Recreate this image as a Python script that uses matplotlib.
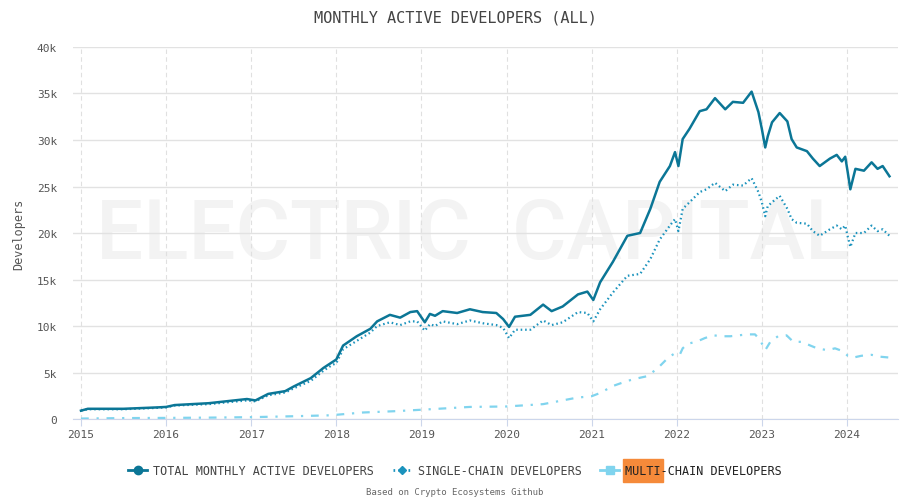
import numpy as np
import matplotlib
matplotlib.use('Agg')
from matplotlib import pyplot as plt
from matplotlib.patches import Rectangle

# decimal year -> developers (thousands)
years = [2015.0, 2015.08, 2015.5, 2015.9, 2016.0, 2016.1, 2016.5, 2016.95, 2017.05,
         2017.2, 2017.4, 2017.5, 2017.7, 2017.85, 2017.95, 2018.0, 2018.08, 2018.24,
         2018.4, 2018.48, 2018.63, 2018.75, 2018.87, 2018.95, 2019.04, 2019.1, 2019.16,
         2019.25, 2019.42, 2019.57, 2019.72, 2019.88, 2019.96, 2020.03, 2020.1, 2020.28,
         2020.43, 2020.53, 2020.66, 2020.84, 2020.95, 2021.02, 2021.1, 2021.25, 2021.42,
         2021.57, 2021.69, 2021.8, 2021.92, 2021.98, 2022.02, 2022.07, 2022.15, 2022.27,
         2022.35, 2022.45, 2022.57, 2022.66, 2022.78, 2022.88, 2022.96, 2023.0, 2023.04,
         2023.07, 2023.12, 2023.21, 2023.3, 2023.35, 2023.41, 2023.53, 2023.6, 2023.68,
         2023.8, 2023.88, 2023.94, 2023.98, 2024.01, 2024.04, 2024.1, 2024.2, 2024.29,
         2024.36, 2024.42, 2024.5]

total = [0.9, 1.1, 1.1, 1.25, 1.3, 1.5, 1.7, 2.15, 2.0,
         2.7, 3.0, 3.5, 4.4, 5.5, 6.1, 6.4, 7.9, 8.9,
         9.7, 10.5, 11.2, 10.9, 11.5, 11.6, 10.4, 11.3, 11.1,
         11.6, 11.4, 11.8, 11.5, 11.4, 10.75, 9.9, 11.0, 11.2,
         12.3, 11.6, 12.1, 13.4, 13.7, 12.8, 14.7, 16.9, 19.7,
         20.0, 22.6, 25.5, 27.2, 28.7, 27.2, 30.1, 31.2, 33.1,
         33.3, 34.5, 33.3, 34.1, 34.0, 35.2, 33.0, 31.2, 29.2,
         30.4, 31.9, 32.9, 32.0, 30.1, 29.2, 28.8, 28.0, 27.2,
         28.0, 28.4, 27.7, 28.2, 26.5, 24.7, 26.9, 26.7, 27.6,
         26.9, 27.2, 26.1]

single = [0.9, 1.05, 1.05, 1.2, 1.25, 1.45, 1.6, 2.0, 1.9,
          2.55, 2.85, 3.3, 4.1, 5.2, 5.8, 6.0, 7.5, 8.4,
          9.3, 10.0, 10.4, 10.1, 10.5, 10.5, 9.5, 10.2, 10.0,
          10.5, 10.2, 10.6, 10.3, 10.1, 9.8, 8.7, 9.6, 9.6,
          10.6, 10.1, 10.4, 11.5, 11.4, 10.5, 11.8, 13.6, 15.4,
          15.6, 17.2, 19.3, 20.8, 21.5, 20.2, 22.6, 23.3, 24.4,
          24.7, 25.4, 24.5, 25.2, 25.1, 25.9, 24.4, 23.3, 21.8,
          22.9, 23.3, 24.0, 22.6, 21.5, 21.1, 21.0, 20.2, 19.7,
          20.4, 20.8, 20.4, 20.8, 19.6, 18.5, 20.0, 20.0, 20.8,
          20.2, 20.4, 19.7]

multi_years = [2015.0, 2015.5, 2016.0, 2016.5, 2017.0, 2017.5, 2017.93, 2018.31, 2018.71,
               2019.1, 2019.57, 2020.0, 2020.43, 2020.83, 2021.0, 2021.1, 2021.25, 2021.42,
               2021.55, 2021.65, 2021.77, 2021.9, 2022.0, 2022.04, 2022.07, 2022.13, 2022.23,
               2022.33, 2022.43, 2022.53, 2022.63, 2022.83, 2022.92, 2022.98, 2023.04, 2023.1,
               2023.19, 2023.29, 2023.37, 2023.47, 2023.57, 2023.65, 2023.77, 2023.86, 2023.95,
               2024.01, 2024.07, 2024.17, 2024.29, 2024.39, 2024.51]
multi = [0.05, 0.1, 0.12, 0.15, 0.2, 0.3, 0.4, 0.7, 0.85,
         1.05, 1.3, 1.35, 1.6, 2.3, 2.45, 2.8, 3.55, 4.1,
         4.4, 4.6, 5.4, 6.6, 7.2, 7.0, 7.6, 8.1, 8.3,
         8.7, 9.0, 8.9, 8.9, 9.1, 9.1, 8.5, 7.4, 8.3,
         8.9, 9.0, 8.3, 8.3, 7.9, 7.6, 7.4, 7.6, 7.3,
         6.8, 6.6, 6.8, 6.9, 6.7, 6.6]

year_ticks = list(range(2015, 2025))
y_ticks = [0, 5, 10, 15, 20, 25, 30, 35, 40]
y_labels = ['0', '5k', '10k', '15k', '20k', '25k', '30k', '35k', '40k']

C_TOTAL = '#0b7696'
C_SINGLE = '#1b93bd'
C_MULTI = '#80d4ee'
MONO = ['DejaVu Sans Mono']
LW = 1.6

fig = plt.figure(figsize=(9.1, 5.02), dpi=100)
ax = fig.add_axes([0.0802, 0.1633, 0.9066, 0.7411])

# watermark
ax.text(0.485, 0.495, 'ELECTRIC  CAPITAL', transform=ax.transAxes, ha='center', va='center',
        fontsize=60, color='#f3f3f3', family='Roboto', fontweight='medium', zorder=0)

ax.plot(multi_years, multi, color=C_MULTI, lw=LW, dashes=(3.5, 3.5, 1, 3.5), zorder=3)
ax.plot(years, single, color=C_SINGLE, lw=LW, dashes=(0.7, 1.3), zorder=4)
ax.plot(years, total, color=C_TOTAL, lw=LW + 0.2, zorder=5)

ax.set_xlim(2014.906, 2024.6)
ax.set_ylim(0, 40)
ax.set_xticks(year_ticks)
ax.set_xticklabels([str(y) for y in year_ticks], family=MONO, fontsize=8, color='#555555')
ax.set_yticks(y_ticks)
ax.set_yticklabels(y_labels, family=MONO, fontsize=8, color='#555555')
ax.tick_params(axis='y', length=0, pad=11.5)
ax.tick_params(axis='x', length=5, color='#ccd6eb', pad=2)
ax.grid(axis='y', color='#e2e2e2', lw=1)
ax.grid(axis='x', color='#e0e0e0', lw=0.8, ls=(0, (4, 3)))
ax.set_axisbelow(True)
for s in ['top', 'right', 'left']:
    ax.spines[s].set_visible(False)
ax.spines['bottom'].set_color('#ccd6eb')
ax.set_ylabel('Developers', family=MONO, fontsize=8.5, color='#555555', labelpad=8)

fig.text(0.5, 0.964, 'MONTHLY ACTIVE DEVELOPERS (ALL)', ha='center', va='center',
         family=MONO, fontsize=11, color='#444444')
fig.text(0.5, 0.019, 'Based on Crypto Ecosystems Github', ha='center', va='center',
         family=MONO, fontsize=6.5, color='#666666')

h1, = ax.plot([], [], color=C_TOTAL, lw=2, marker='o', ms=6)
h2, = ax.plot([], [], color=C_SINGLE, lw=2, dashes=(0.6, 1.2), marker='D', ms=4.5)
h3, = ax.plot([], [], color=C_MULTI, lw=2, marker='s', ms=5.5)
leg = fig.legend([h1, h2, h3],
                 ['TOTAL MONTHLY ACTIVE DEVELOPERS', 'SINGLE-CHAIN DEVELOPERS',
                  'MULTI-CHAIN DEVELOPERS'],
                 loc='center', bbox_to_anchor=(0.5, 0.06), ncol=3, frameon=False,
                 prop={'family': MONO, 'size': 8.5}, handlelength=1.6, handletextpad=0.5,
                 columnspacing=1.6)
for t in leg.get_texts():
    t.set_color('#444444')
leg.get_texts()[2].set_color('#222222')

# orange highlight behind "MULTI"
fig.canvas.draw()
txt = leg.get_texts()[2]
bb = txt.get_window_extent().transformed(fig.transFigure.inverted())
w = bb.width * 5 / len(txt.get_text())
fig.add_artist(Rectangle((bb.x0 - 0.002, bb.y0 - 0.01), w + 0.004, bb.height + 0.02,
                         transform=fig.transFigure, color='#f58a3a', zorder=-1))

fig.savefig('out.png', dpi=100)
